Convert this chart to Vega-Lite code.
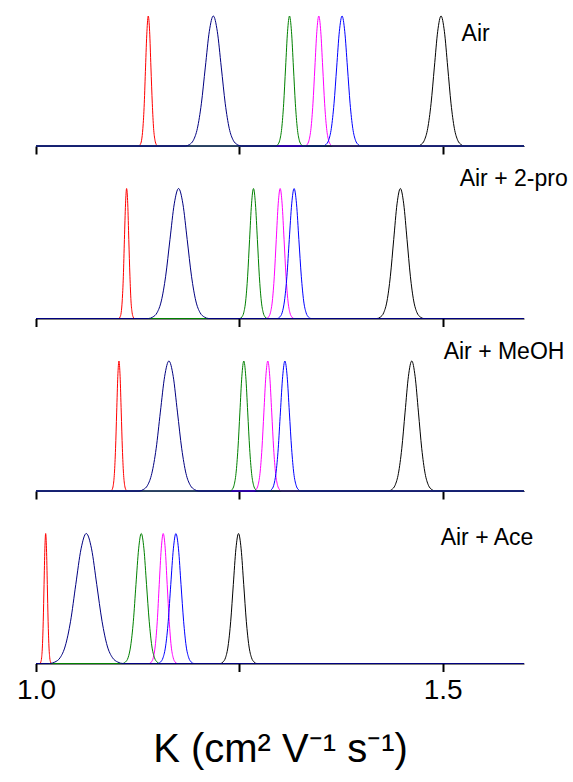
{
"$schema": "https://vega.github.io/schema/vega-lite/v6.json",
"padding": {"left": 16, "top": 14, "right": 0, "bottom": 0},
"config": {"view": {"stroke": null}, "font": "Liberation Sans", "text": {"font": "Liberation Sans"}},
"spacing": 42.5,
"bounds": "flush",
"datasets": {
"p1": [
{"s":"red","x":1,"y":0},{"s":"red","x":1.1265,"y":0},{"s":"red","x":1.1281,"y":0.011},{"s":"red","x":1.1298,"y":0.044},{"s":"red","x":1.1314,"y":0.135},{"s":"red","x":1.1331,"y":0.325},{"s":"red","x":1.1347,"y":0.607},{"s":"red","x":1.1364,"y":0.882},{"s":"red","x":1.138,"y":1},{"s":"red","x":1.1397,"y":0.882},{"s":"red","x":1.1413,"y":0.607},{"s":"red","x":1.143,"y":0.325},{"s":"red","x":1.1446,"y":0.135},{"s":"red","x":1.1463,"y":0.044},{"s":"red","x":1.1479,"y":0.011},{"s":"red","x":1.1496,"y":0},{"s":"red","x":1.6,"y":0},
{"s":"black","x":1,"y":0},{"s":"black","x":1.4693,"y":0},{"s":"black","x":1.4734,"y":0.011},{"s":"black","x":1.4775,"y":0.044},{"s":"black","x":1.4816,"y":0.135},{"s":"black","x":1.4857,"y":0.325},{"s":"black","x":1.4898,"y":0.607},{"s":"black","x":1.4939,"y":0.882},{"s":"black","x":1.498,"y":1},{"s":"black","x":1.5021,"y":0.882},{"s":"black","x":1.5062,"y":0.607},{"s":"black","x":1.5103,"y":0.325},{"s":"black","x":1.5144,"y":0.135},{"s":"black","x":1.5185,"y":0.044},{"s":"black","x":1.5226,"y":0.011},{"s":"black","x":1.5267,"y":0},{"s":"black","x":1.6,"y":0},
{"s":"magenta","x":1,"y":0},{"s":"magenta","x":1.3309,"y":0},{"s":"magenta","x":1.3333,"y":0.011},{"s":"magenta","x":1.3357,"y":0.044},{"s":"magenta","x":1.3381,"y":0.135},{"s":"magenta","x":1.3405,"y":0.325},{"s":"magenta","x":1.3429,"y":0.607},{"s":"magenta","x":1.3453,"y":0.882},{"s":"magenta","x":1.3477,"y":1},{"s":"magenta","x":1.3501,"y":0.882},{"s":"magenta","x":1.3525,"y":0.607},{"s":"magenta","x":1.3549,"y":0.325},{"s":"magenta","x":1.3573,"y":0.135},{"s":"magenta","x":1.3597,"y":0.044},{"s":"magenta","x":1.3621,"y":0.011},{"s":"magenta","x":1.3645,"y":0},{"s":"magenta","x":1.6,"y":0},
{"s":"blue","x":1,"y":0},{"s":"blue","x":1.3532,"y":0},{"s":"blue","x":1.3565,"y":0.011},{"s":"blue","x":1.3598,"y":0.044},{"s":"blue","x":1.3631,"y":0.135},{"s":"blue","x":1.3664,"y":0.325},{"s":"blue","x":1.3697,"y":0.607},{"s":"blue","x":1.373,"y":0.882},{"s":"blue","x":1.3763,"y":1},{"s":"blue","x":1.3796,"y":0.882},{"s":"blue","x":1.3829,"y":0.607},{"s":"blue","x":1.3862,"y":0.325},{"s":"blue","x":1.3895,"y":0.135},{"s":"blue","x":1.3928,"y":0.044},{"s":"blue","x":1.3961,"y":0.011},{"s":"blue","x":1.3994,"y":0},{"s":"blue","x":1.6,"y":0},
{"s":"green","x":1,"y":0},{"s":"green","x":1.2949,"y":0},{"s":"green","x":1.2973,"y":0.011},{"s":"green","x":1.2997,"y":0.044},{"s":"green","x":1.3021,"y":0.135},{"s":"green","x":1.3045,"y":0.325},{"s":"green","x":1.3069,"y":0.607},{"s":"green","x":1.3093,"y":0.882},{"s":"green","x":1.3117,"y":1},{"s":"green","x":1.3141,"y":0.882},{"s":"green","x":1.3165,"y":0.607},{"s":"green","x":1.3189,"y":0.325},{"s":"green","x":1.3213,"y":0.135},{"s":"green","x":1.3237,"y":0.044},{"s":"green","x":1.3261,"y":0.011},{"s":"green","x":1.3285,"y":0},{"s":"green","x":1.6,"y":0},
{"s":"navy","x":1,"y":0},{"s":"navy","x":1.1837,"y":0},{"s":"navy","x":1.1886,"y":0.011},{"s":"navy","x":1.1935,"y":0.044},{"s":"navy","x":1.1984,"y":0.135},{"s":"navy","x":1.2033,"y":0.325},{"s":"navy","x":1.2082,"y":0.607},{"s":"navy","x":1.2131,"y":0.882},{"s":"navy","x":1.218,"y":1},{"s":"navy","x":1.2229,"y":0.882},{"s":"navy","x":1.2278,"y":0.607},{"s":"navy","x":1.2327,"y":0.325},{"s":"navy","x":1.2376,"y":0.135},{"s":"navy","x":1.2425,"y":0.044},{"s":"navy","x":1.2474,"y":0.011},{"s":"navy","x":1.2523,"y":0},{"s":"navy","x":1.6,"y":0}
],
"p2": [
{"s":"red","x":1,"y":0},{"s":"red","x":1.102,"y":0},{"s":"red","x":1.1033,"y":0.011},{"s":"red","x":1.1047,"y":0.044},{"s":"red","x":1.106,"y":0.135},{"s":"red","x":1.1074,"y":0.325},{"s":"red","x":1.1087,"y":0.607},{"s":"red","x":1.1101,"y":0.882},{"s":"red","x":1.1114,"y":1},{"s":"red","x":1.1128,"y":0.882},{"s":"red","x":1.1141,"y":0.607},{"s":"red","x":1.1155,"y":0.325},{"s":"red","x":1.1168,"y":0.135},{"s":"red","x":1.1182,"y":0.044},{"s":"red","x":1.1195,"y":0.011},{"s":"red","x":1.1209,"y":0},{"s":"red","x":1.6,"y":0},
{"s":"black","x":1,"y":0},{"s":"black","x":1.4193,"y":0},{"s":"black","x":1.4234,"y":0.011},{"s":"black","x":1.4275,"y":0.044},{"s":"black","x":1.4316,"y":0.135},{"s":"black","x":1.4357,"y":0.325},{"s":"black","x":1.4398,"y":0.607},{"s":"black","x":1.4439,"y":0.882},{"s":"black","x":1.448,"y":1},{"s":"black","x":1.4521,"y":0.882},{"s":"black","x":1.4562,"y":0.607},{"s":"black","x":1.4603,"y":0.325},{"s":"black","x":1.4644,"y":0.135},{"s":"black","x":1.4685,"y":0.044},{"s":"black","x":1.4726,"y":0.011},{"s":"black","x":1.4767,"y":0},{"s":"black","x":1.6,"y":0},
{"s":"magenta","x":1,"y":0},{"s":"magenta","x":1.2834,"y":0},{"s":"magenta","x":1.2858,"y":0.011},{"s":"magenta","x":1.2882,"y":0.044},{"s":"magenta","x":1.2906,"y":0.135},{"s":"magenta","x":1.293,"y":0.325},{"s":"magenta","x":1.2954,"y":0.607},{"s":"magenta","x":1.2978,"y":0.882},{"s":"magenta","x":1.3002,"y":1},{"s":"magenta","x":1.3026,"y":0.882},{"s":"magenta","x":1.305,"y":0.607},{"s":"magenta","x":1.3074,"y":0.325},{"s":"magenta","x":1.3098,"y":0.135},{"s":"magenta","x":1.3122,"y":0.044},{"s":"magenta","x":1.3146,"y":0.011},{"s":"magenta","x":1.317,"y":0},{"s":"magenta","x":1.6,"y":0},
{"s":"blue","x":1,"y":0},{"s":"blue","x":1.2967,"y":0},{"s":"blue","x":1.2996,"y":0.011},{"s":"blue","x":1.3026,"y":0.044},{"s":"blue","x":1.3055,"y":0.135},{"s":"blue","x":1.3085,"y":0.325},{"s":"blue","x":1.3114,"y":0.607},{"s":"blue","x":1.3144,"y":0.882},{"s":"blue","x":1.3173,"y":1},{"s":"blue","x":1.3203,"y":0.882},{"s":"blue","x":1.3232,"y":0.607},{"s":"blue","x":1.3262,"y":0.325},{"s":"blue","x":1.3291,"y":0.135},{"s":"blue","x":1.3321,"y":0.044},{"s":"blue","x":1.335,"y":0.011},{"s":"blue","x":1.338,"y":0},{"s":"blue","x":1.6,"y":0},
{"s":"green","x":1,"y":0},{"s":"green","x":1.2506,"y":0},{"s":"green","x":1.253,"y":0.011},{"s":"green","x":1.2554,"y":0.044},{"s":"green","x":1.2578,"y":0.135},{"s":"green","x":1.2602,"y":0.325},{"s":"green","x":1.2626,"y":0.607},{"s":"green","x":1.265,"y":0.882},{"s":"green","x":1.2674,"y":1},{"s":"green","x":1.2698,"y":0.882},{"s":"green","x":1.2722,"y":0.607},{"s":"green","x":1.2746,"y":0.325},{"s":"green","x":1.277,"y":0.135},{"s":"green","x":1.2794,"y":0.044},{"s":"green","x":1.2818,"y":0.011},{"s":"green","x":1.2842,"y":0},{"s":"green","x":1.6,"y":0},
{"s":"navy","x":1,"y":0},{"s":"navy","x":1.1382,"y":0},{"s":"navy","x":1.1435,"y":0.011},{"s":"navy","x":1.1488,"y":0.044},{"s":"navy","x":1.1541,"y":0.135},{"s":"navy","x":1.1594,"y":0.325},{"s":"navy","x":1.1647,"y":0.607},{"s":"navy","x":1.17,"y":0.882},{"s":"navy","x":1.1753,"y":1},{"s":"navy","x":1.1806,"y":0.882},{"s":"navy","x":1.1859,"y":0.607},{"s":"navy","x":1.1912,"y":0.325},{"s":"navy","x":1.1965,"y":0.135},{"s":"navy","x":1.2018,"y":0.044},{"s":"navy","x":1.2071,"y":0.011},{"s":"navy","x":1.2124,"y":0},{"s":"navy","x":1.6,"y":0}
],
"p3": [
{"s":"red","x":1,"y":0},{"s":"red","x":1.0922,"y":0},{"s":"red","x":1.0936,"y":0.011},{"s":"red","x":1.095,"y":0.044},{"s":"red","x":1.0964,"y":0.135},{"s":"red","x":1.0978,"y":0.325},{"s":"red","x":1.0992,"y":0.607},{"s":"red","x":1.1006,"y":0.882},{"s":"red","x":1.102,"y":1},{"s":"red","x":1.1034,"y":0.882},{"s":"red","x":1.1048,"y":0.607},{"s":"red","x":1.1062,"y":0.325},{"s":"red","x":1.1076,"y":0.135},{"s":"red","x":1.109,"y":0.044},{"s":"red","x":1.1104,"y":0.011},{"s":"red","x":1.1118,"y":0},{"s":"red","x":1.6,"y":0},
{"s":"black","x":1,"y":0},{"s":"black","x":1.4333,"y":0},{"s":"black","x":1.4374,"y":0.011},{"s":"black","x":1.4415,"y":0.044},{"s":"black","x":1.4456,"y":0.135},{"s":"black","x":1.4497,"y":0.325},{"s":"black","x":1.4538,"y":0.607},{"s":"black","x":1.4579,"y":0.882},{"s":"black","x":1.462,"y":1},{"s":"black","x":1.4661,"y":0.882},{"s":"black","x":1.4702,"y":0.607},{"s":"black","x":1.4743,"y":0.325},{"s":"black","x":1.4784,"y":0.135},{"s":"black","x":1.4825,"y":0.044},{"s":"black","x":1.4866,"y":0.011},{"s":"black","x":1.4907,"y":0},{"s":"black","x":1.6,"y":0},
{"s":"magenta","x":1,"y":0},{"s":"magenta","x":1.2682,"y":0},{"s":"magenta","x":1.2706,"y":0.011},{"s":"magenta","x":1.273,"y":0.044},{"s":"magenta","x":1.2754,"y":0.135},{"s":"magenta","x":1.2778,"y":0.325},{"s":"magenta","x":1.2802,"y":0.607},{"s":"magenta","x":1.2826,"y":0.882},{"s":"magenta","x":1.285,"y":1},{"s":"magenta","x":1.2874,"y":0.882},{"s":"magenta","x":1.2898,"y":0.607},{"s":"magenta","x":1.2922,"y":0.325},{"s":"magenta","x":1.2946,"y":0.135},{"s":"magenta","x":1.297,"y":0.044},{"s":"magenta","x":1.2994,"y":0.011},{"s":"magenta","x":1.3018,"y":0},{"s":"magenta","x":1.6,"y":0},
{"s":"blue","x":1,"y":0},{"s":"blue","x":1.2868,"y":0},{"s":"blue","x":1.2895,"y":0.011},{"s":"blue","x":1.2923,"y":0.044},{"s":"blue","x":1.295,"y":0.135},{"s":"blue","x":1.2978,"y":0.325},{"s":"blue","x":1.3005,"y":0.607},{"s":"blue","x":1.3033,"y":0.882},{"s":"blue","x":1.306,"y":1},{"s":"blue","x":1.3088,"y":0.882},{"s":"blue","x":1.3115,"y":0.607},{"s":"blue","x":1.3143,"y":0.325},{"s":"blue","x":1.317,"y":0.135},{"s":"blue","x":1.3198,"y":0.044},{"s":"blue","x":1.3225,"y":0.011},{"s":"blue","x":1.3253,"y":0},{"s":"blue","x":1.6,"y":0},
{"s":"green","x":1,"y":0},{"s":"green","x":1.2387,"y":0},{"s":"green","x":1.2411,"y":0.011},{"s":"green","x":1.2435,"y":0.044},{"s":"green","x":1.2459,"y":0.135},{"s":"green","x":1.2483,"y":0.325},{"s":"green","x":1.2507,"y":0.607},{"s":"green","x":1.2531,"y":0.882},{"s":"green","x":1.2555,"y":1},{"s":"green","x":1.2579,"y":0.882},{"s":"green","x":1.2603,"y":0.607},{"s":"green","x":1.2627,"y":0.325},{"s":"green","x":1.2651,"y":0.135},{"s":"green","x":1.2675,"y":0.044},{"s":"green","x":1.2699,"y":0.011},{"s":"green","x":1.2723,"y":0},{"s":"green","x":1.6,"y":0},
{"s":"navy","x":1,"y":0},{"s":"navy","x":1.1267,"y":0},{"s":"navy","x":1.1319,"y":0.011},{"s":"navy","x":1.1372,"y":0.044},{"s":"navy","x":1.1424,"y":0.135},{"s":"navy","x":1.1477,"y":0.325},{"s":"navy","x":1.1529,"y":0.607},{"s":"navy","x":1.1582,"y":0.882},{"s":"navy","x":1.1634,"y":1},{"s":"navy","x":1.1687,"y":0.882},{"s":"navy","x":1.1739,"y":0.607},{"s":"navy","x":1.1792,"y":0.325},{"s":"navy","x":1.1844,"y":0.135},{"s":"navy","x":1.1897,"y":0.044},{"s":"navy","x":1.1949,"y":0.011},{"s":"navy","x":1.2002,"y":0},{"s":"navy","x":1.6,"y":0}
],
"p4": [
{"s":"red","x":1,"y":0},{"s":"red","x":1.0049,"y":0},{"s":"red","x":1.0059,"y":0.011},{"s":"red","x":1.0069,"y":0.044},{"s":"red","x":1.0079,"y":0.135},{"s":"red","x":1.0089,"y":0.325},{"s":"red","x":1.0099,"y":0.607},{"s":"red","x":1.0109,"y":0.882},{"s":"red","x":1.0119,"y":1},{"s":"red","x":1.0129,"y":0.882},{"s":"red","x":1.0139,"y":0.607},{"s":"red","x":1.0149,"y":0.325},{"s":"red","x":1.0159,"y":0.135},{"s":"red","x":1.0169,"y":0.044},{"s":"red","x":1.0179,"y":0.011},{"s":"red","x":1.0189,"y":0},{"s":"red","x":1.6,"y":0},
{"s":"black","x":1,"y":0},{"s":"black","x":1.2266,"y":0},{"s":"black","x":1.2298,"y":0.011},{"s":"black","x":1.233,"y":0.044},{"s":"black","x":1.2362,"y":0.135},{"s":"black","x":1.2394,"y":0.325},{"s":"black","x":1.2426,"y":0.607},{"s":"black","x":1.2458,"y":0.882},{"s":"black","x":1.249,"y":1},{"s":"black","x":1.2522,"y":0.882},{"s":"black","x":1.2554,"y":0.607},{"s":"black","x":1.2586,"y":0.325},{"s":"black","x":1.2618,"y":0.135},{"s":"black","x":1.265,"y":0.044},{"s":"black","x":1.2682,"y":0.011},{"s":"black","x":1.2714,"y":0},{"s":"black","x":1.6,"y":0},
{"s":"magenta","x":1,"y":0},{"s":"magenta","x":1.1393,"y":0},{"s":"magenta","x":1.1417,"y":0.011},{"s":"magenta","x":1.1442,"y":0.044},{"s":"magenta","x":1.1466,"y":0.135},{"s":"magenta","x":1.1491,"y":0.325},{"s":"magenta","x":1.1515,"y":0.607},{"s":"magenta","x":1.154,"y":0.882},{"s":"magenta","x":1.1564,"y":1},{"s":"magenta","x":1.1589,"y":0.882},{"s":"magenta","x":1.1613,"y":0.607},{"s":"magenta","x":1.1638,"y":0.325},{"s":"magenta","x":1.1662,"y":0.135},{"s":"magenta","x":1.1687,"y":0.044},{"s":"magenta","x":1.1711,"y":0.011},{"s":"magenta","x":1.1736,"y":0},{"s":"magenta","x":1.6,"y":0},
{"s":"blue","x":1,"y":0},{"s":"blue","x":1.1499,"y":0},{"s":"blue","x":1.1531,"y":0.011},{"s":"blue","x":1.1562,"y":0.044},{"s":"blue","x":1.1594,"y":0.135},{"s":"blue","x":1.1626,"y":0.325},{"s":"blue","x":1.1657,"y":0.607},{"s":"blue","x":1.1689,"y":0.882},{"s":"blue","x":1.172,"y":1},{"s":"blue","x":1.1752,"y":0.882},{"s":"blue","x":1.1783,"y":0.607},{"s":"blue","x":1.1815,"y":0.325},{"s":"blue","x":1.1846,"y":0.135},{"s":"blue","x":1.1878,"y":0.044},{"s":"blue","x":1.1909,"y":0.011},{"s":"blue","x":1.1941,"y":0},{"s":"blue","x":1.6,"y":0},
{"s":"green","x":1,"y":0},{"s":"green","x":1.1067,"y":0},{"s":"green","x":1.1099,"y":0.011},{"s":"green","x":1.1132,"y":0.044},{"s":"green","x":1.1164,"y":0.135},{"s":"green","x":1.1197,"y":0.325},{"s":"green","x":1.1229,"y":0.607},{"s":"green","x":1.1262,"y":0.882},{"s":"green","x":1.1294,"y":1},{"s":"green","x":1.1327,"y":0.882},{"s":"green","x":1.1359,"y":0.607},{"s":"green","x":1.1392,"y":0.325},{"s":"green","x":1.1424,"y":0.135},{"s":"green","x":1.1457,"y":0.044},{"s":"green","x":1.1489,"y":0.011},{"s":"green","x":1.1522,"y":0},{"s":"green","x":1.6,"y":0},
{"s":"navy","x":1,"y":0},{"s":"navy","x":1.0167,"y":0},{"s":"navy","x":1.0231,"y":0.011},{"s":"navy","x":1.0296,"y":0.044},{"s":"navy","x":1.036,"y":0.135},{"s":"navy","x":1.0425,"y":0.325},{"s":"navy","x":1.0489,"y":0.607},{"s":"navy","x":1.0554,"y":0.882},{"s":"navy","x":1.0618,"y":1},{"s":"navy","x":1.0683,"y":0.882},{"s":"navy","x":1.0747,"y":0.607},{"s":"navy","x":1.0812,"y":0.325},{"s":"navy","x":1.0876,"y":0.135},{"s":"navy","x":1.0941,"y":0.044},{"s":"navy","x":1.1005,"y":0.011},{"s":"navy","x":1.107,"y":0},{"s":"navy","x":1.6,"y":0}
]
},
"vconcat": [
{"width": 488, "height": 130,
 "layer": [
  {"data": {"name": "p1"}, "mark": {"type": "line", "interpolate": "monotone", "strokeWidth": 1},
   "encoding": {
    "x": {"field": "x", "type": "quantitative", "scale": {"domain": [1, 1.6], "nice": false, "zero": false},
          "axis": {"values": [1, 1.25, 1.5], "labels": false, "tickSize": 8, "tickWidth": 2, "tickColor": "black", "domainColor": "black", "grid": false, "title": null}},
    "y": {"field": "y", "type": "quantitative", "scale": {"domain": [0, 1]}, "axis": null},
    "color": {"field": "s", "type": "nominal", "legend": null, "scale": {"domain": ["red", "black", "magenta", "blue", "green", "navy"], "range": ["#ff0000", "#000000", "#ff00ff", "#0000ff", "#008000", "#000080"]}}}},
  {"data": {"values": [{"label": "Air", "x": 1.5233, "y": 0.858}]}, "mark": {"type": "text", "align": "left", "baseline": "middle", "fontSize": 23, "color": "black"},
   "encoding": {"x": {"field": "x", "type": "quantitative"}, "y": {"field": "y", "type": "quantitative"}, "text": {"field": "label"}}}
 ]},
{"width": 488, "height": 130,
 "layer": [
  {"data": {"name": "p2"}, "mark": {"type": "line", "interpolate": "monotone", "strokeWidth": 1},
   "encoding": {
    "x": {"field": "x", "type": "quantitative", "scale": {"domain": [1, 1.6], "nice": false, "zero": false},
          "axis": {"values": [1, 1.25, 1.5], "labels": false, "tickSize": 8, "tickWidth": 2, "tickColor": "black", "domainColor": "black", "grid": false, "title": null}},
    "y": {"field": "y", "type": "quantitative", "scale": {"domain": [0, 1]}, "axis": null},
    "color": {"field": "s", "type": "nominal", "legend": null, "scale": {"domain": ["red", "black", "magenta", "blue", "green", "navy"], "range": ["#ff0000", "#000000", "#ff00ff", "#0000ff", "#008000", "#000080"]}}}},
  {"data": {"values": [{"label": "Air + 2-pro", "x": 1.5209, "y": 1.075}]}, "mark": {"type": "text", "align": "left", "baseline": "middle", "fontSize": 23, "color": "black"},
   "encoding": {"x": {"field": "x", "type": "quantitative"}, "y": {"field": "y", "type": "quantitative"}, "text": {"field": "label"}}}
 ]},
{"width": 488, "height": 130,
 "layer": [
  {"data": {"name": "p3"}, "mark": {"type": "line", "interpolate": "monotone", "strokeWidth": 1},
   "encoding": {
    "x": {"field": "x", "type": "quantitative", "scale": {"domain": [1, 1.6], "nice": false, "zero": false},
          "axis": {"values": [1, 1.25, 1.5], "labels": false, "tickSize": 8, "tickWidth": 2, "tickColor": "black", "domainColor": "black", "grid": false, "title": null}},
    "y": {"field": "y", "type": "quantitative", "scale": {"domain": [0, 1]}, "axis": null},
    "color": {"field": "s", "type": "nominal", "legend": null, "scale": {"domain": ["red", "black", "magenta", "blue", "green", "navy"], "range": ["#ff0000", "#000000", "#ff00ff", "#0000ff", "#008000", "#000080"]}}}},
  {"data": {"values": [{"label": "Air + MeOH", "x": 1.5012, "y": 1.073}]}, "mark": {"type": "text", "align": "left", "baseline": "middle", "fontSize": 23, "color": "black"},
   "encoding": {"x": {"field": "x", "type": "quantitative"}, "y": {"field": "y", "type": "quantitative"}, "text": {"field": "label"}}}
 ]},
{"width": 488, "height": 130,
 "layer": [
  {"data": {"name": "p4"}, "mark": {"type": "line", "interpolate": "monotone", "strokeWidth": 1},
   "encoding": {
    "x": {"field": "x", "type": "quantitative", "scale": {"domain": [1, 1.6], "nice": false, "zero": false},
          "axis": {"values": [1, 1.25, 1.5], "labelExpr": "datum.value == 1.25 ? '' : format(datum.value, '.1f')", "labelFontSize": 28, "labelColor": "black", "labelPadding": 5, "labelFlush": false, "tickSize": 8, "tickWidth": 2, "tickColor": "black", "domainColor": "black", "grid": false,
                   "title": "K (cm² V⁻¹ s⁻¹)", "titleFontSize": 40, "titleFontWeight": "normal", "titleColor": "black", "titlePadding": 25}},
    "y": {"field": "y", "type": "quantitative", "scale": {"domain": [0, 1]}, "axis": null},
    "color": {"field": "s", "type": "nominal", "legend": null, "scale": {"domain": ["red", "black", "magenta", "blue", "green", "navy"], "range": ["#ff0000", "#000000", "#ff00ff", "#0000ff", "#008000", "#000080"]}}}},
  {"data": {"values": [{"label": "Air + Ace", "x": 1.4975, "y": 0.964}]}, "mark": {"type": "text", "align": "left", "baseline": "middle", "fontSize": 23, "color": "black"},
   "encoding": {"x": {"field": "x", "type": "quantitative"}, "y": {"field": "y", "type": "quantitative"}, "text": {"field": "label"}}}
 ]}
]
}
